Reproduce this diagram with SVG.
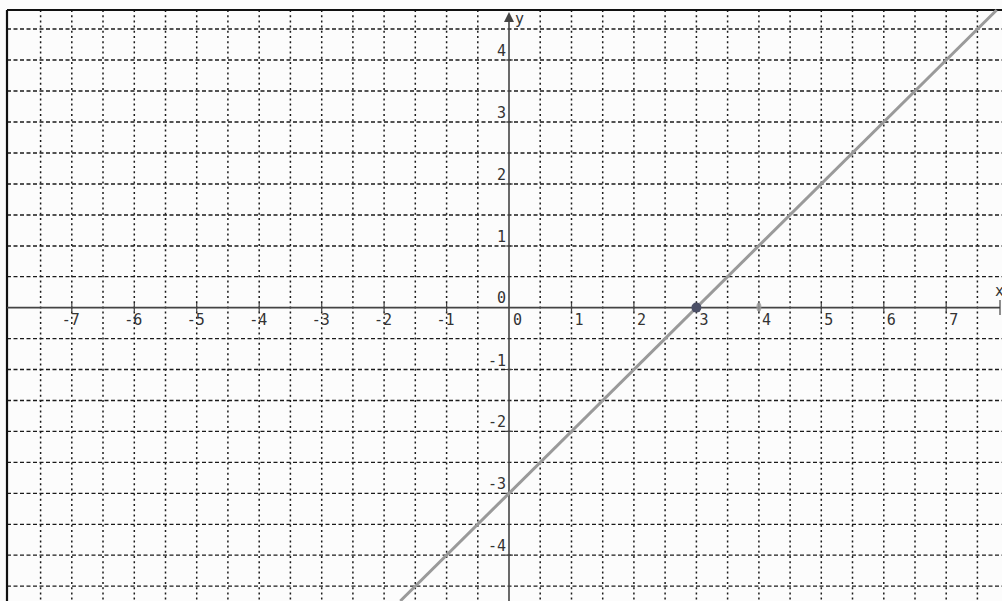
<svg xmlns="http://www.w3.org/2000/svg" width="1002" height="601" viewBox="0 0 1002 601">
<style>
.gh{stroke:#1a1a1a;stroke-width:1.3;stroke-dasharray:4 2.5;fill:none}
.gv{stroke:#1a1a1a;stroke-width:1.5;stroke-dasharray:2 3.2;fill:none}
.ax{stroke:#444;stroke-width:1.6;fill:none}
.tk{stroke:#444;stroke-width:1.2}
.lb{font-family:"DejaVu Sans Mono",monospace;font-size:15px;fill:#333}
</style>
<rect width="1002" height="601" fill="#fcfcfc"/>
<g id="grid">
<path class="gv" d="M40.6 10V601M71.8 10V601M103 10V601M134.3 10V601M165.5 10V601M196.7 10V601M227.9 10V601M259.2 10V601M290.4 10V601M321.7 10V601M352.9 10V601M384.1 10V601M415.3 10V601M446.6 10V601M477.8 10V601M540.2 10V601M571.5 10V601M602.7 10V601M633.9 10V601M665.1 10V601M696.4 10V601M727.6 10V601M758.9 10V601M790.1 10V601M821.3 10V601M852.5 10V601M883.8 10V601M915 10V601M946.2 10V601M977.4 10V601"/>
<path class="gh" d="M7 29H1002M7 60H1002M7 91H1002M7 122H1002M7 153H1002M7 184H1002M7 215H1002M7 246H1002M7 276.6H1002M7 338.6H1002M7 369.5H1002M7 400.5H1002M7 431.4H1002M7 462.4H1002M7 493.3H1002M7 524.3H1002M7 555.2H1002M7 586.2H1002"/>
</g>
<g id="frame">
<path d="M7 10H1002M7 10V601" stroke="#111" stroke-width="2.2" fill="none"/>
</g>
<g id="axes">
<path class="ax" d="M7 307.6H1000"/>
<path class="ax" d="M509 601V20"/>
<path d="M509 12L504 22H514Z" fill="#444"/>
<path class="tk" d="M1000 300V315"/>
<path class="tk" d="M71.8 303V312M134.3 303V312M196.7 303V312M259.2 303V312M321.7 303V312M384.1 303V312M446.6 303V312M571.5 303V312M633.9 303V312M696.4 303V312M758.9 303V312M821.3 303V312M883.8 303V312M946.2 303V312"/>
<path class="tk" d="M505 60H513M505 122H513M505 184H513M505 246H513M505 369.5H513M505 431.4H513M505 493.3H513M505 555.2H513"/>
<text class="lb" x="515" y="24" font-size="14">y</text>
<text class="lb" x="995" y="296" font-size="14">x</text>
</g>
<g id="xlabels" class="lb">
<text x="61.8" y="325">-7</text>
<text x="124.3" y="325">-6</text>
<text x="186.7" y="325">-5</text>
<text x="249.2" y="325">-4</text>
<text x="311.7" y="325">-3</text>
<text x="374.1" y="325">-2</text>
<text x="436.6" y="325">-1</text>
<text x="513" y="325">0</text>
<text x="574.5" y="325">1</text>
<text x="636.9" y="325">2</text>
<text x="699.4" y="325">3</text>
<text x="761.9" y="325">4</text>
<text x="824.3" y="325">5</text>
<text x="886.8" y="325">6</text>
<text x="949.2" y="325">7</text>
</g>
<g id="ylabels" class="lb" text-anchor="end">
<text x="506" y="56">4</text>
<text x="506" y="118">3</text>
<text x="506" y="180">2</text>
<text x="506" y="242">1</text>
<text x="506" y="303">0</text>
<text x="506" y="365.5">-1</text>
<text x="506" y="427.4">-2</text>
<text x="506" y="489.3">-3</text>
<text x="506" y="551.2">-4</text>
</g>
<g id="connectors">
<line x1="400.3" y1="601" x2="996.7" y2="10" stroke="#9a9a9a" stroke-width="3"/>
</g>
<g id="point-3-0">
<circle cx="696.4" cy="307.6" r="5" fill="#4b4f66"/>
</g>
<g id="mark-4-0">
<ellipse cx="758.9" cy="307" rx="2.5" ry="4.5" fill="#999" opacity="0.8"/>
</g>
</svg>
